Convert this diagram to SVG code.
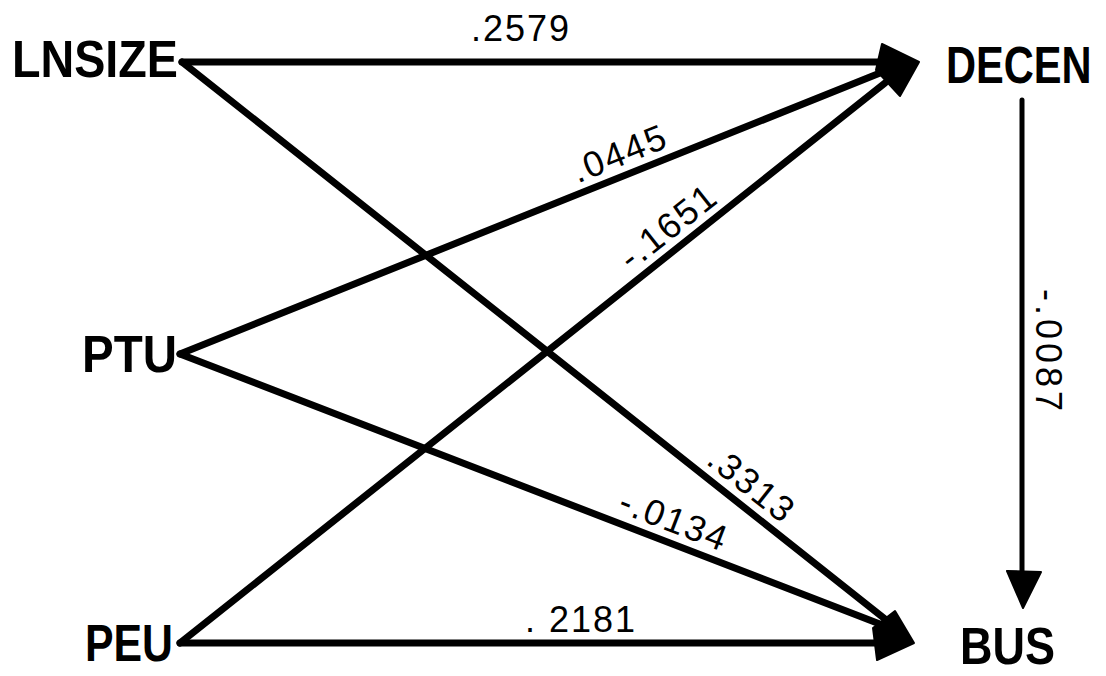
<svg xmlns="http://www.w3.org/2000/svg" width="1106" height="676" viewBox="0 0 1106 676">
<style>
.node{font-family:"Liberation Sans",Arial,sans-serif;font-weight:bold;font-size:52px;fill:#000}
.lbl{font-family:"Liberation Sans",Arial,sans-serif;font-size:36px;fill:#000}
.edge{stroke:#000;stroke-width:7;fill:none;stroke-linecap:round}
.head{fill:#000;stroke:#000;stroke-width:2;stroke-linejoin:round}
</style>
<rect width="1106" height="676" fill="#fff"/>
<g id="connectors">
<line class="edge" x1="182" y1="62" x2="885" y2="62"/>
<line class="edge" x1="182" y1="62" x2="885" y2="619"/>
<line class="edge" x1="180" y1="354" x2="885" y2="71"/>
<line class="edge" x1="180" y1="354" x2="885" y2="626"/>
<line class="edge" x1="180" y1="643" x2="885" y2="83"/>
<line class="edge" x1="180" y1="643" x2="885" y2="643"/>
<polygon class="head" points="882,44 919,62 900,96 876,70"/>
<polygon class="head" points="895,611 914,643 877,660 873,628"/>
<line class="edge" style="stroke-width:5" x1="1022" y1="100" x2="1022" y2="580"/>
<polygon class="head" points="1007,571 1041,572 1023,608"/>
<text class="lbl" x="521" y="41" text-anchor="middle" letter-spacing="2">.2579</text>
<text class="lbl" transform="translate(628,174) rotate(-22)" x="0" y="-10" text-anchor="middle" letter-spacing="2">.0445</text>
<text class="lbl" transform="translate(682,244) rotate(-38.4)" x="0" y="-10" text-anchor="middle" letter-spacing="2">-.1651</text>
<text class="lbl" transform="translate(738,502) rotate(38.4)" x="0" y="-10" text-anchor="middle" letter-spacing="2">.3313</text>
<text class="lbl" transform="translate(666,541) rotate(21.1)" x="0" y="-10" text-anchor="middle" letter-spacing="2">-.0134</text>
<text class="lbl" x="525" y="632" letter-spacing="2">. 2181</text>
<text class="lbl" transform="translate(1036,352) rotate(90)" x="0" y="0" text-anchor="middle" letter-spacing="4">-.0087</text>
</g>
<g id="LNSIZE"><text class="node" x="12" y="77" textLength="166" lengthAdjust="spacingAndGlyphs">LNSIZE</text></g>
<g id="PTU"><text class="node" x="82" y="372" textLength="95" lengthAdjust="spacingAndGlyphs">PTU</text></g>
<g id="PEU"><text class="node" x="85" y="661" textLength="88" lengthAdjust="spacingAndGlyphs">PEU</text></g>
<g id="DECEN"><text class="node" transform="translate(946,83) scale(0.8,1)" x="0" y="0" font-size="50">DECEN</text></g>
<g id="BUS"><text class="node" x="960" y="664" textLength="95" lengthAdjust="spacingAndGlyphs">BUS</text></g>
</svg>
